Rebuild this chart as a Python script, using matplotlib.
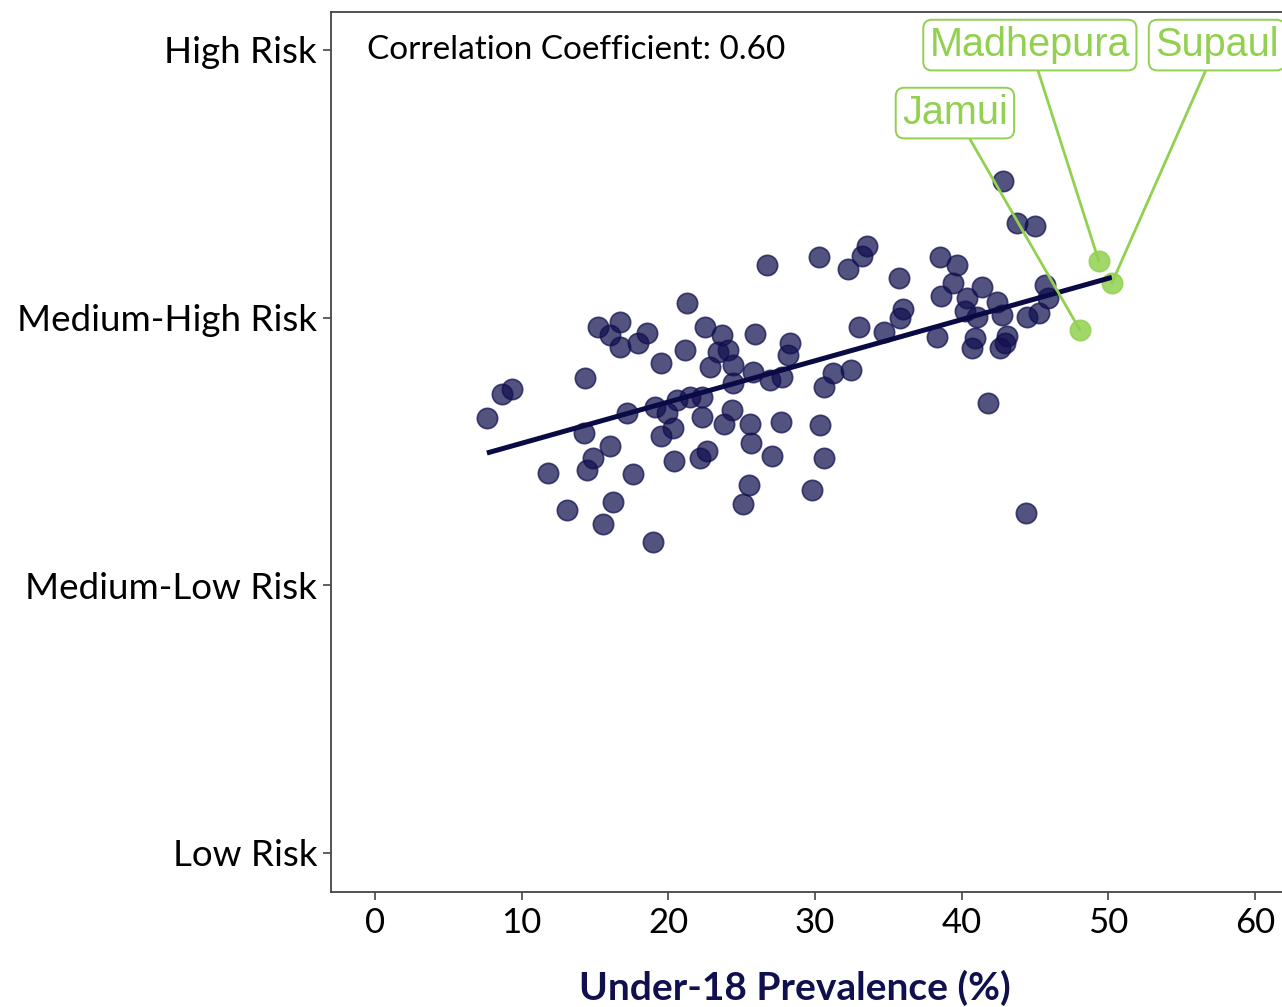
import numpy as np
import matplotlib
matplotlib.use("Agg")
import matplotlib.pyplot as plt

# Under-18 prevalence (%) and risk score (1 = Low ... 4 = High) per district
prevalence = [
    7.63, 8.66, 9.34, 11.79, 13.09, 14.31, 14.25, 14.45, 14.86, 15.20,
    15.54, 16.02, 16.22, 16.02, 16.70, 16.70, 17.18, 17.59, 17.93, 18.54,
    18.95, 19.50, 19.09, 19.50, 19.90, 20.31, 20.38, 20.59, 21.27, 21.13,
    21.47, 22.29, 22.29, 22.15, 22.63, 22.49, 22.84, 23.38, 23.65, 24.06,
    24.40, 24.40, 24.34, 23.79, 25.56, 25.63, 25.49, 25.09, 25.90, 25.77,
    26.72, 26.93, 27.06, 27.68, 27.74, 28.15, 28.29, 29.79, 30.27, 30.33,
    30.61, 30.61, 31.22, 32.45, 32.24, 33.20, 33.54, 32.99, 34.70, 35.72,
    35.79, 35.99, 38.31, 38.51, 38.58, 39.67, 39.40, 40.35, 40.22, 41.38,
    41.04, 40.90, 40.70, 42.40, 42.74, 43.08, 42.60, 42.94, 41.79, 42.81,
    43.76, 44.99, 44.44, 45.26, 45.67, 45.88, 44.38,
]
risk_score = [
    2.625, 2.715, 2.733, 2.419, 2.281, 2.774, 2.569, 2.431, 2.476, 2.965,
    2.229, 2.520, 2.311, 2.935, 2.984, 2.890, 2.644, 2.416, 2.905, 2.942,
    2.162, 2.830, 2.666, 2.558, 2.644, 2.588, 2.464, 2.692, 3.055, 2.879,
    2.703, 2.703, 2.629, 2.476, 2.502, 2.965, 2.815, 2.872, 2.935, 2.879,
    2.823, 2.756, 2.655, 2.603, 2.603, 2.532, 2.375, 2.304, 2.939, 2.797,
    3.197, 2.767, 2.483, 2.610, 2.778, 2.860, 2.905, 2.356, 3.226, 2.599,
    2.476, 2.741, 2.793, 2.804, 3.182, 3.230, 3.267, 2.965, 2.946, 3.148,
    2.999, 3.032, 2.928, 3.226, 3.081, 3.197, 3.129, 3.073, 3.025, 3.114,
    3.002, 2.924, 2.886, 3.058, 3.010, 2.931, 2.886, 2.905, 2.681, 3.510,
    3.353, 3.342, 3.002, 3.017, 3.122, 3.073, 2.270,
]

# Highlighted districts
highlight_names = ["Madhepura", "Supaul", "Jamui"]
highlight_prevalence = [49.35, 50.24, 48.06]
highlight_risk = [3.211, 3.129, 2.954]

risk_levels = [1, 2, 3, 4]
risk_labels = ["Low Risk", "Medium-Low Risk", "Medium-High Risk", "High Risk"]
x_ticks = [0, 10, 20, 30, 40, 50, 60]
correlation_text = "Correlation Coefficient: 0.60"

# Label box centres (data coordinates)
label_pos = {"Madhepura": (44.65, 4.018), "Supaul": (57.4, 4.018), "Jamui": (39.54, 3.764)}

navy = "#11104f"
green = "#92d050"
tick_font = "Lato"

fig = plt.figure(figsize=(12.82, 10.07), dpi=100)
ax = fig.add_axes([331 / 1282, 115 / 1007, (1299 - 331) / 1282, 880 / 1007])

ax.scatter(prevalence, risk_score, s=215, color=navy, alpha=0.72,
           edgecolors=navy, linewidths=1.2, zorder=3)
ax.scatter(highlight_prevalence, highlight_risk, s=215, color=green, alpha=0.85,
           edgecolors=green, linewidths=1.2, zorder=3)

# Least-squares trend across all districts
all_x = np.array(prevalence + highlight_prevalence)
all_y = np.array(risk_score + highlight_risk)
slope, intercept = np.polyfit(all_x, all_y, 1)
xs = np.array([all_x.min(), all_x.max()])
ax.plot(xs, slope * xs + intercept, color="#0a0a45", lw=3.6, zorder=4,
        solid_capstyle="butt")

for name, px, py in zip(highlight_names, highlight_prevalence, highlight_risk):
    tx, ty = label_pos[name]
    ax.annotate(name, xy=(px, py), xytext=(tx, ty), textcoords="data",
                ha="center", va="center", fontsize=28.5, color=green,
                family="Liberation Sans", zorder=6, annotation_clip=False,
                bbox=dict(boxstyle="round,pad=0.16,rounding_size=0.22",
                          fc="white", ec=green, lw=1.4),
                arrowprops=dict(arrowstyle="-", color=green, lw=2.0,
                                shrinkA=0, shrinkB=0))

ax.text(-0.55, 4.0, correlation_text, ha="left", va="center",
        fontsize=24, family=tick_font, color="black", zorder=6)

ax.set_xlim(-3, 63)
ax.set_ylim(0.854, 4.1416)
ax.set_xticks(x_ticks)
ax.set_xticklabels([str(t) for t in x_ticks])
ax.set_yticks(risk_levels)
ax.set_yticklabels(risk_labels)
for lab in ax.get_yticklabels():
    lab.set_family(tick_font)
    lab.set_fontsize(26.5)
    lab.set_color("black")
for lab in ax.get_xticklabels():
    lab.set_family(tick_font)
    lab.set_fontsize(25)
    lab.set_color("black")

ax.tick_params(axis="both", length=6, width=1.2, color="#444444")
ax.tick_params(axis="y", pad=4)
ax.tick_params(axis="x", pad=5)
for sp in ax.spines.values():
    sp.set_color("#444444")
    sp.set_linewidth(1.3)
ax.spines["right"].set_visible(False)

fig.text(795 / 1282, 1 - 988 / 1007, "Under-18 Prevalence (%)", ha="center",
         va="center", fontsize=28, fontweight="bold", family=tick_font, color=navy)

fig.savefig("out.png", dpi=100)
